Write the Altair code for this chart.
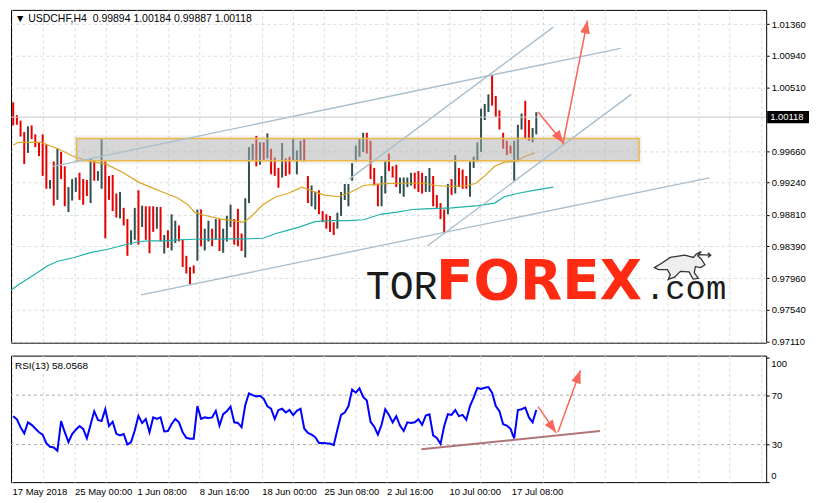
import altair as alt
import pandas as pd

# ---------------- data ----------------
# USDCHF H4 bars (pairs of H4 bars): high / low / direction (1 = up, 0 = down)
bar_high = [1.00316, 1.00145, 1.00072, 0.99918, 0.99995, 1.00008, 0.99888, 0.99781, 0.99888, 0.99760,
            0.99276, 0.99524, 0.99695, 0.99653, 0.99460, 0.99182, 0.99289, 0.99310, 0.99374, 0.99289,
            0.99276, 0.99567, 0.99546, 0.99396, 0.99824, 0.99524, 0.99332, 0.99344, 0.99096, 0.99118,
            0.98904, 0.98754, 0.98604, 0.98904, 0.99139, 0.98934, 0.98925,
            0.98925, 0.98925, 0.98916, 0.98916, 0.98540, 0.98604, 0.98818, 0.98732, 0.98668, 0.98476,
            0.98262, 0.98112, 0.98133, 0.98882, 0.98882, 0.98625, 0.98732, 0.98625, 0.98754, 0.98754,
            0.98625, 0.98797, 0.98946, 0.98754, 0.98891, 0.98561, 0.99032, 0.99717, 0.99760, 0.99867,
            0.99781, 0.99781, 0.99901, 0.99695, 0.99576, 0.99439, 0.99772, 0.99567, 0.99588,
            0.99824, 0.99674, 0.99802, 0.99832, 0.99331, 0.99203, 0.99117, 0.99139, 0.98861, 0.98818,
            0.98796, 0.98711, 0.98839, 0.99117, 0.99224, 0.99224, 0.99503, 0.99738, 0.99824, 0.99909,
            0.99909, 0.99802, 0.99438, 0.99224, 0.99331, 0.99524, 0.99631, 0.99460, 0.99481, 0.99310,
            0.99310, 0.99310, 0.99374, 0.99374, 0.99396, 0.99374, 0.99331,
            0.99438, 0.99331, 0.99075, 0.98968, 0.98882, 0.99224, 0.99289, 0.99610, 0.99438, 0.99417,
            0.99331, 0.99524, 0.99588, 0.99781, 1.00230, 1.00294, 1.00423, 1.00680, 1.00401, 1.00209,
            0.99909, 0.99802, 0.99738, 0.99802, 1.00016, 1.00166, 1.00337, 1.00080, 0.99973, 1.00184]
bar_low = [1.00008, 1.00016, 0.99858, 0.99490, 0.99640, 0.99824, 0.99717, 0.99597, 0.99332, 0.99160,
           0.99160, 0.98934, 0.99011, 0.99289, 0.98925, 0.98848, 0.99002, 0.99118, 0.99011, 0.98946,
           0.99062, 0.98968, 0.99267, 0.99267, 0.99160, 0.98497, 0.99011, 0.98861, 0.98775, 0.98762,
           0.98668, 0.98262, 0.98411, 0.98476, 0.98411, 0.98647, 0.98476,
           0.98296, 0.98583, 0.98625, 0.98454, 0.98292, 0.98369, 0.98334, 0.98433, 0.98454, 0.98112,
           0.98026, 0.97876, 0.98026, 0.98197, 0.98390, 0.98334, 0.98454, 0.98390, 0.98476, 0.98326,
           0.98304, 0.98454, 0.98647, 0.98411, 0.98390, 0.98326, 0.98240, 0.98968, 0.99546, 0.99460,
           0.99481, 0.99546, 0.99567, 0.99353, 0.99332, 0.99173, 0.99310, 0.99332, 0.99353,
           0.99545, 0.99353, 0.99545, 0.99524, 0.98968, 0.98925, 0.98882, 0.98818, 0.98711, 0.98625,
           0.98582, 0.98540, 0.98625, 0.98796, 0.99010, 0.98925, 0.99267, 0.99524, 0.99588, 0.99652,
           0.99631, 0.99289, 0.99203, 0.98925, 0.98925, 0.99096, 0.99396, 0.99310, 0.99182, 0.99096,
           0.99053, 0.99182, 0.99203, 0.99160, 0.99117, 0.99096, 0.99117,
           0.99117, 0.98925, 0.98903, 0.98754, 0.98561, 0.98818, 0.99075, 0.99096, 0.99182, 0.99160,
           0.99160, 0.99053, 0.99438, 0.99524, 0.99652, 1.00080, 1.00187, 1.00273, 1.00123, 0.99952,
           0.99695, 0.99610, 0.99631, 0.99267, 0.99524, 0.99952, 0.99824, 0.99802, 0.99781, 0.99887]
bar_up = [0, 0, 0, 0, 1, 0, 0, 0, 0, 0, 1, 0, 1, 0, 0, 1, 1, 1, 0, 0, 0, 1, 0, 1, 1, 0, 0, 0, 0, 1,
          0, 0, 1, 1, 0, 1, 0,
          0, 0, 1, 0, 1, 0, 1, 1, 0, 0, 0, 0, 0, 1, 0, 1, 1, 0, 1, 0, 1, 1, 1, 0, 0, 0, 1, 1, 1, 0,
          1, 0, 1, 0, 0, 0, 1, 0, 0,
          1, 1, 1, 0, 0, 1, 1, 0, 0, 0, 0, 0, 1, 1, 1, 1, 1, 1, 1, 1, 0, 0, 0, 0, 1, 1, 0, 0, 0, 1,
          1, 1, 1, 0, 0, 0, 1,
          1, 0, 0, 0, 0, 1, 0, 1, 0, 0, 0, 1, 1, 1, 1, 1, 1, 0, 0, 0, 0, 0, 0, 1, 1, 1, 0, 0, 1, 1]

# moving averages (bar position, value)
ma_fast_t = [0, 1.5, 7.6, 8.7, 12.1, 16.6, 20.9, 25.4, 29.9, 34.1, 37.3, 40.5, 44.7, 47.4, 49.3,
             51.9, 56.4, 59.9, 62.5, 64.4, 67.8, 71.3, 74.5, 78.4, 81.9, 84.5, 88.2, 91.7, 95.1, 99.7,
             104.2, 111.6, 114.8, 119.0, 123.5, 125.6, 128.0, 130.7, 133.3, 136.8, 138.7, 141.6]
ma_fast_v = [0.99746, 0.99781, 0.99781, 0.99759, 0.99695, 0.99588, 0.99524, 0.99485, 0.99374, 0.99245,
             0.99181, 0.99117, 0.99036, 0.98946, 0.98843, 0.98805, 0.98754, 0.98732, 0.98711, 0.98779,
             0.98946, 0.99053, 0.99096, 0.99181, 0.99117, 0.99075, 0.99053, 0.99117, 0.99203, 0.99225,
             0.99233, 0.99233, 0.99203, 0.99190, 0.99203, 0.99233, 0.99332, 0.99460, 0.99515, 0.99533,
             0.99588, 0.99640]
ma_slow_t = [-0.6, 1.5, 4.2, 6.8, 9.5, 12.1, 16.6, 20.9, 25.4, 29.9, 34.1, 37.3, 40.5, 44.7, 49.3,
             53.8, 58.0, 62.5, 67.8, 71.3, 74.5, 77.6, 81.9, 86.4, 90.9, 95.1, 99.7, 104.2, 108.4,
             111.6, 119.0, 126.2, 130.7, 133.3, 136.8, 141.3, 146.6]
ma_slow_v = [0.97800, 0.97877, 0.97961, 0.98047, 0.98133, 0.98189, 0.98240, 0.98304, 0.98347, 0.98403,
             0.98454, 0.98462, 0.98462, 0.98475, 0.98484, 0.98484, 0.98488, 0.98488, 0.98497, 0.98561,
             0.98603, 0.98647, 0.98719, 0.98732, 0.98732, 0.98745, 0.98818, 0.98847, 0.98882, 0.98891,
             0.98904, 0.98933, 0.98968, 0.99053, 0.99096, 0.99139, 0.99181]

# RSI(13)
rsi = [53, 50.5, 44, 39, 48, 46, 43, 40, 38, 31,
       28.2, 27.6, 25, 49, 40, 32, 38.5, 42, 45, 42.7,
       35, 46, 57, 50, 49, 58.6, 45, 48.5, 38.7, 37.4,
       38.5, 30, 32, 41.4, 53.3, 47.5, 50.7, 40, 52, 50.7,
       52, 40.6, 41, 46.7, 50.7, 48, 40, 35.5, 34.8, 34.8,
       61.2, 50.7, 52, 51.5, 52, 57.3, 45.4, 54.6, 57, 60.7,
       48, 47.5, 44, 62, 71.5, 70, 69, 69.5, 67, 61,
       59.1, 50.7, 58, 59, 56, 58, 53.8, 57.3, 59, 43,
       39.5, 38, 36, 31.3, 31.3, 31, 30.8, 29.5, 42, 54,
       56, 61, 74.5, 72, 75.5, 68.5, 65.6, 48.5, 44.5, 38,
       46, 58.6, 54, 48, 53, 45.4, 41, 48, 47.5, 48,
       50.5, 46, 53.5, 54.5, 37.4, 35.3, 30.5, 45, 54.6, 54,
       58, 53, 54, 50, 61.2, 68, 75.8, 75, 76, 76.5,
       72, 61.2, 57, 46.5, 45.4, 42.7, 35, 58, 58.6, 60,
       52, 48, 58.0568]
rsi_levels = [30, 70]

# drawings
zone_t = [17.2, 169.9]
zone_p = [0.99533, 0.99832]
chan_t0 = [10.8, 34.7, 91.2, 112.4]
chan_p0 = [0.99460, 0.97739, 0.99289, 0.98394]
chan_t1 = [164.9, 189.0, 146.6, 167.8]
chan_p1 = [1.01039, 0.99306, 1.01322, 1.00423]
arrow_t0 = [142.5, 149.2]
arrow_p0 = [1.00188, 0.99755]
arrow_t1 = [149.4, 155.9]
arrow_p1 = [0.99768, 1.01411]
rsi_arrow_t0 = [142.5, 147.9]
rsi_arrow_v0 = [60.7, 40.1]
rsi_arrow_t1 = [147.4, 154.0]
rsi_arrow_v1 = [39.5, 90.1]
rsi_trend = {"t0": [110.8], "v0": [26.3], "t1": [159.3], "v1": [40.9]}

last_price = 1.00118
price_ticks = [1.01360, 1.00940, 1.00510, 0.99660, 0.99240, 0.98810, 0.98390, 0.97960, 0.97540, 0.97110]
rsi_ticks = [0, 30, 70, 100]
time_labels = ["17 May 2018", "25 May 00:00", "1 Jun 08:00", "8 Jun 16:00", "18 Jun 00:00",
               "25 Jun 08:00", "2 Jul 16:00", "10 Jul 00:00", "17 Jul 08:00"]
title_text = "\u25bc USDCHF,H4\u00a0\u00a00.99894 1.00184 0.99887 1.00118"
rsi_title = "RSI(13) 58.0568"

# ---------------- styling ----------------
W, H_MAIN, H_RSI = 758, 334, 127
FONT = "Liberation Sans, DejaVu Sans, sans-serif"
RED, DARK = "#E60000", "#2F4F4F"
ARROW = "#F8675A"
CHAN = "#A9BFCE"
GRID = "#dcdcdc"
HEAD = "M0,0L-0.75,2L0.75,2Z"
BOX = "M-1,-0.29L1,-0.29L1,0.29L-1,0.29Z"
BULL = ("M-1,0.05L-0.75,-0.1L-0.45,-0.3L0.05,-0.38L0.35,-0.3L0.45,-0.42L0.62,-0.5L0.5,-0.36"
        "L0.62,-0.25L0.75,-0.05L0.6,0.05L0.42,0.02L0.38,0.22L0.52,0.42L0.34,0.45L0.2,0.2"
        "L-0.1,0.18L-0.3,0.38L-0.52,0.46L-0.45,0.3L-0.55,0.12L-0.85,0.12Z"
        "M0.5,-0.4L0.95,-0.38M0.85,-0.46L0.95,-0.38L0.85,-0.3")

xs = alt.Scale(domain=[-0.6, 204.4], nice=False, zero=False)
ys = alt.Scale(domain=[0.97100, 1.01553], nice=False, zero=False)
rs = alt.Scale(domain=[-0.4, 102.0], nice=False, zero=False)

grid_pos = [round(-0.3 + 8.47 * k, 2) for k in range(25)]
label_pos = grid_pos[0:17:2]
label_expr = " : ".join(
    f"abs(datum.value - ({p})) < 0.6 ? '{l}'" for p, l in zip(label_pos, time_labels)
) + " : ''"

x_main_axis = alt.Axis(values=grid_pos, grid=True, gridDash=[3, 3], gridColor=GRID,
                       labels=False, ticks=False, domain=False, title=None)
y_main_axis = alt.Axis(orient="right", values=price_ticks, format=".5f", grid=True,
                       gridDash=[3, 3], gridColor=GRID, tickSize=3, tickColor="#000",
                       domain=False, labelPadding=2, labelFont=FONT, labelFontSize=9.5,
                       labelColor="#000", labelOverlap=False, title=None)
x_rsi_axis = alt.Axis(values=grid_pos, grid=True, gridDash=[3, 3], gridColor=GRID,
                      labelExpr=label_expr, labelAlign="left", labelBaseline="top",
                      labelPadding=4, ticks=False, domain=False, labelOverlap=False,
                      labelBound=False, labelFont=FONT, labelFontSize=9.5,
                      labelColor="#000", title=None)
# 30 / 70 labelled by the axis; 0 / 100 drawn flush inside the panel as text below
y_rsi_axis = alt.Axis(orient="right", values=rsi_ticks, grid=False, tickSize=3,
                      tickColor="#000", domain=False, labelPadding=2,
                      labelExpr="datum.value > 0 && datum.value < 100 ? datum.label : ''",
                      labelFont=FONT, labelFontSize=9.5, labelColor="#000",
                      labelOverlap=False, title=None)


def X(f):
    return alt.X(f, type="quantitative", scale=xs, axis=x_main_axis)


def Y(f):
    return alt.Y(f, type="quantitative", scale=ys, axis=y_main_axis)


def RX(f):
    return alt.X(f, type="quantitative", scale=xs, axis=x_rsi_axis)


def RY(f):
    return alt.Y(f, type="quantitative", scale=rs, axis=y_rsi_axis)


# ---------------- main panel ----------------
bars_df = pd.DataFrame({"t": list(range(len(bar_high))), "hi": bar_high, "lo": bar_low, "up": bar_up})
bars = alt.Chart(bars_df).mark_rule(strokeWidth=2).encode(
    x=X("t"), y=Y("lo"), y2="hi",
    color=alt.Color("up:N", scale=alt.Scale(domain=[0, 1], range=[RED, DARK]), legend=None),
)

ma_slow = alt.Chart(pd.DataFrame({"t": ma_slow_t, "v": ma_slow_v})).mark_line(
    color="#20B2AA", strokeWidth=1.2).encode(x=X("t"), y=Y("v"))
ma_fast = alt.Chart(pd.DataFrame({"t": ma_fast_t, "v": ma_fast_v})).mark_line(
    color="#DAA520", strokeWidth=1.2).encode(x=X("t"), y=Y("v"))

zone_df = pd.DataFrame({"t0": [zone_t[0]], "t1": [zone_t[1]], "p0": [zone_p[0]], "p1": [zone_p[1]]})
glow_df = pd.DataFrame({"t0": [zone_t[0] - 0.8], "t1": [zone_t[1] + 0.8],
                        "p0": [zone_p[0] - 0.00045], "p1": [zone_p[1] + 0.00045]})
glow = alt.Chart(glow_df).mark_rect(fill="#9a9a9a", opacity=0.12).encode(
    x=X("t0"), x2="t1", y=Y("p0"), y2="p1")
zone = alt.Chart(zone_df).mark_rect(fill="#b4b4b4", fillOpacity=0.45, stroke="#E9B949",
                                    strokeWidth=1.5).encode(x=X("t0"), x2="t1", y=Y("p0"), y2="p1")

chan_df = pd.DataFrame({"t0": chan_t0, "p0": chan_p0, "t1": chan_t1, "p1": chan_p1})
chans = alt.Chart(chan_df).mark_rule(color=CHAN, strokeWidth=1.4).encode(
    x=X("t0"), x2="t1", y=Y("p0"), y2="p1")

price_df = pd.DataFrame({"p": [last_price], "lbl": [f"{last_price:.5f}"]})
price_line = alt.Chart(price_df).mark_rule(color="#c8c8c8", strokeWidth=1).encode(y=Y("p"))
price_box = alt.Chart(price_df).mark_point(shape=BOX, size=1764, filled=True, color="#000",
                                           opacity=1).encode(x=alt.value(W + 22), y=Y("p"))
price_txt = alt.Chart(price_df).mark_text(align="left", baseline="middle", color="white",
                                          font=FONT, fontSize=9.5).encode(
    x=alt.value(W + 4), y=Y("p"), text="lbl:N")

arr_df = pd.DataFrame({"t0": arrow_t0, "p0": arrow_p0, "t1": arrow_t1, "p1": arrow_p1, "ang": [143, 11]})
arr_shaft = alt.Chart(arr_df).mark_rule(color=ARROW, strokeWidth=1.5).encode(
    x=X("t0"), x2="t1", y=Y("p0"), y2="p1")
arr_head = alt.Chart(arr_df).mark_point(shape=HEAD, size=170, filled=True, color=ARROW,
                                        opacity=1).encode(
    x=X("t1"), y=Y("p1"), angle=alt.Angle("ang:Q", scale=None))

logo_tor = alt.Chart(pd.DataFrame({"s": ["TOR"], "t": [95.7], "p": [0.97688]})).mark_text(
    align="left", baseline="alphabetic", font="Liberation Mono", fontSize=40, color="#1b1b1b"
).encode(x=X("t"), y=Y("p"), text="s:N")
logo_forex = alt.Chart(pd.DataFrame({"s": ["FOREX"], "t": [114.8], "p": [0.97688]})).mark_text(
    align="left", baseline="alphabetic", font="DejaVu Sans", fontWeight="bold", fontSize=55,
    color="#FF2A12"
).encode(x=X("t"), y=Y("p"), text="s:N")
logo_com = alt.Chart(pd.DataFrame({"s": [".com"], "t": [171.5], "p": [0.97688]})).mark_text(
    align="left", baseline="alphabetic", font="Liberation Mono", fontSize=34, color="#1b1b1b"
).encode(x=X("t"), y=Y("p"), text="s:N")
logo_bull = alt.Chart(pd.DataFrame({"t": [181.9], "p": [0.98124]})).mark_point(
    shape=BULL, size=3364, filled=False, stroke="#333333", strokeWidth=1.3, fill="#eeeeee",
    fillOpacity=1, opacity=1
).encode(x=X("t"), y=Y("p"))

title = alt.Chart(pd.DataFrame({"s": [title_text]})).mark_text(
    align="left", baseline="middle", font=FONT, fontSize=10.5, color="#000"
).encode(x=alt.value(4), y=alt.value(9), text="s:N")

main = alt.layer(
    bars, ma_slow, ma_fast, glow, zone, chans, price_line, arr_shaft, arr_head,
    logo_tor, logo_forex, logo_com, logo_bull, title, price_box, price_txt,
).properties(width=W, height=H_MAIN)

# ---------------- RSI panel ----------------
lvl = alt.Chart(pd.DataFrame({"v": rsi_levels})).mark_rule(
    color="#aaaaaa", strokeDash=[3, 3], strokeWidth=1).encode(y=RY("v"))
rsi_line = alt.Chart(pd.DataFrame({"t": list(range(len(rsi))), "v": rsi})).mark_line(
    color="#0000FF", strokeWidth=2).encode(x=RX("t"), y=RY("v"))
trend = alt.Chart(pd.DataFrame(rsi_trend)).mark_rule(
    color="#A45C5C", strokeWidth=2, opacity=0.85).encode(x=RX("t0"), x2="t1", y=RY("v0"), y2="v1")
rarr_df = pd.DataFrame({"t0": rsi_arrow_t0, "v0": rsi_arrow_v0, "t1": rsi_arrow_t1,
                        "v1": rsi_arrow_v1, "ang": [145, 20]})
rarr_shaft = alt.Chart(rarr_df).mark_rule(color=ARROW, strokeWidth=1.5).encode(
    x=RX("t0"), x2="t1", y=RY("v0"), y2="v1")
rarr_head = alt.Chart(rarr_df).mark_point(shape=HEAD, size=170, filled=True, color=ARROW,
                                          opacity=1).encode(
    x=RX("t1"), y=RY("v1"), angle=alt.Angle("ang:Q", scale=None))
rtitle = alt.Chart(pd.DataFrame({"s": [rsi_title]})).mark_text(
    align="left", baseline="middle", font=FONT, fontSize=10, color="#000"
).encode(x=alt.value(4), y=alt.value(10), text="s:N")
edge_top = alt.Chart(pd.DataFrame({"s": [str(rsi_ticks[-1])]})).mark_text(
    align="left", baseline="top", font=FONT, fontSize=9.5, color="#000"
).encode(x=alt.value(W + 5), y=alt.value(3), text="s:N")
edge_bot = alt.Chart(pd.DataFrame({"s": [str(rsi_ticks[0])]})).mark_text(
    align="left", baseline="bottom", font=FONT, fontSize=9.5, color="#000"
).encode(x=alt.value(W + 5), y=alt.value(H_RSI - 1), text="s:N")

rsi_chart = alt.layer(lvl, rsi_line, trend, rarr_shaft, rarr_head, rtitle,
                      edge_top, edge_bot).properties(width=W, height=H_RSI)

chart = alt.vconcat(main, rsi_chart, spacing=4).properties(
    padding=0, background="white"
).configure_view(stroke="#000", strokeWidth=1)

chart.save("out.html", embed_options={"renderer": "svg", "actions": False})
